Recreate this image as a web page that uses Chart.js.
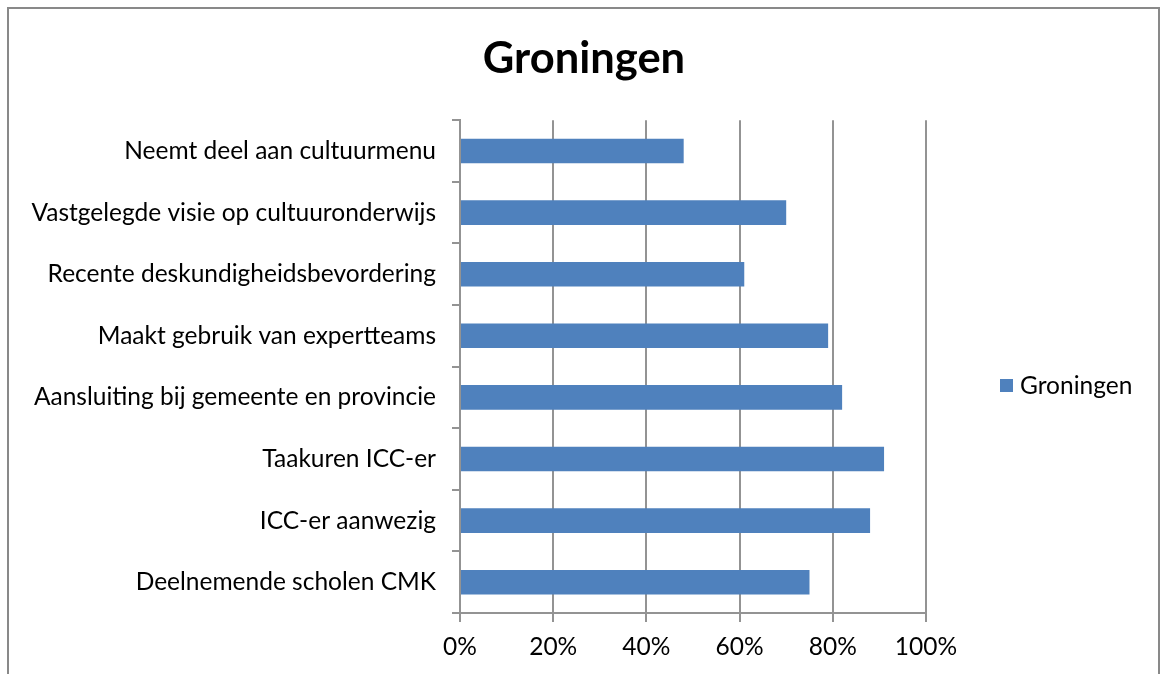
<!DOCTYPE html>
<html>
<head>
<meta charset="utf-8">
<script src="https://cdn.jsdelivr.net/npm/chart.js@4.4.0/dist/chart.umd.min.js"></script>
<style>
    html, body { margin: 0; padding: 0; background: #fff; overflow: hidden; }
    #wrap { position: relative; width: 1160px; height: 674px; }
    #frame { position: absolute; left: 7px; top: 7px; width: 1153px; height: 720px; border: 2px solid #898989; box-sizing: border-box; }
    #myChart { position: absolute; left: 0; top: 0; }
    #legend { position: absolute; left: 1000px; top: 370px; font-family: Lato, sans-serif; font-size: 24.5px; line-height: 30px; color: #000; display: flex; align-items: center; }
    #legend span.box { display: inline-block; width: 13px; height: 13px; margin-right: 7px; }
</style>
</head>
<body>
<div id="wrap">
    <div id="frame"></div>
    <canvas id="myChart" width="1160" height="674"></canvas>
    <div id="legend"></div>
</div>
<script>
const categories = [
    'Neemt deel aan cultuurmenu',
    'Vastgelegde visie op cultuuronderwijs',
    'Recente deskundigheidsbevordering',
    'Maakt gebruik van expertteams',
    'Aansluiting bij gemeente en provincie',
    'Taakuren ICC-er',
    'ICC-er aanwezig',
    'Deelnemende scholen CMK'
];
const seriesName = 'Groningen';
const groningen = [48, 70, 61, 79, 82, 91, 88, 75];
const xTicks = [0, 20, 40, 60, 80, 100];

const barColor = '#4F81BD';
const axisColor = '#939393';
const fontFamily = 'Lato, sans-serif';

document.addEventListener('DOMContentLoaded', () => {
    const ctx = document.querySelector('#myChart').getContext('2d');

    new Chart(ctx, {
        type: 'bar',
        data: {
            labels: categories,
            datasets: [{
                label: seriesName,
                data: groningen,
                backgroundColor: barColor,
                borderWidth: 0,
                barPercentage: 0.4,
                categoryPercentage: 1
            }]
        },
        options: {
            indexAxis: 'y',
            responsive: false,
            animation: false,
            layout: { padding: { left: 8, right: 0, top: 0, bottom: 0 } },
            plugins: {
                legend: { display: false },
                tooltip: { enabled: false },
                title: {
                    display: true,
                    text: seriesName,
                    color: '#000',
                    font: { family: fontFamily, size: 43.5, weight: 'bold' },
                    padding: { top: 33, bottom: 35 }
                }
            },
            scales: {
                x: {
                    type: 'linear',
                    min: 0,
                    max: 100,
                    afterBuildTicks: scale => { scale.ticks = xTicks.map(v => ({ value: v })); },
                    afterFit: scale => { scale.height = 61; },
                    grid: { color: axisColor, lineWidth: 2, tickLength: 9, drawTicks: true },
                    border: { color: axisColor, width: 2 },
                    ticks: {
                        color: '#000',
                        padding: 10,
                        font: { family: fontFamily, size: 24.5 },
                        callback: v => v + '%'
                    }
                },
                y: {
                    type: 'category',
                    afterFit: scale => { scale.width = 452; },
                    grid: { offset: true, drawOnChartArea: false, color: axisColor, lineWidth: 2, tickLength: 8 },
                    border: { color: axisColor, width: 2 },
                    ticks: {
                        color: '#000',
                        padding: 16,
                        font: { family: fontFamily, size: 24.5 }
                    }
                },
                // empty right-hand axis that only keeps room for the legend
                spacer: {
                    type: 'linear',
                    axis: 'y',
                    position: 'right',
                    afterFit: scale => { scale.width = 234; },
                    grid: { display: false },
                    border: { display: false },
                    ticks: { display: false }
                }
            }
        }
    });

    const legend = document.querySelector('#legend');
    legend.innerHTML = `<span class="box" style="background:${barColor}"></span>${seriesName}`;
});
</script>
</body>
</html>
